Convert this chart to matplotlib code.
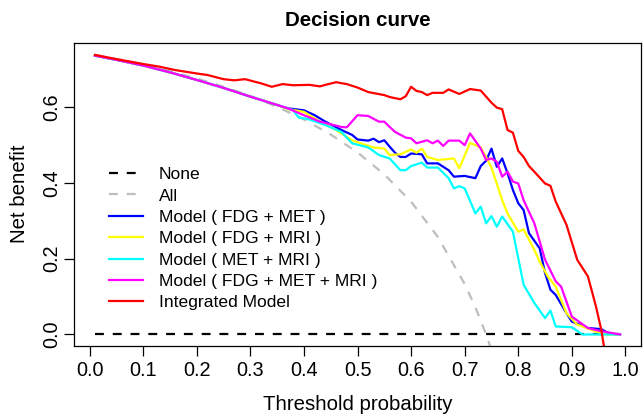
import numpy as np
import matplotlib
matplotlib.use("Agg")
import matplotlib.pyplot as plt

plt.rcParams['font.family'] = ['Liberation Sans', 'DejaVu Sans']

# reference lines
none_x = [0.01, 0.99]
none_y = [0.0, 0.0]
all_x = [0.01, 0.05, 0.10, 0.15, 0.20, 0.25, 0.30, 0.35, 0.40, 0.45, 0.50,
         0.55, 0.60, 0.65, 0.70, 0.72, 0.74, 0.76, 0.78]
all_y = [0.737, 0.726, 0.711, 0.694, 0.675, 0.653, 0.629, 0.600, 0.567, 0.527,
         0.480, 0.422, 0.350, 0.257, 0.133, 0.072, 0.0, -0.083, -0.182]

# shared start of the four models
early_x = [0.01, 0.05, 0.10, 0.15, 0.20, 0.25, 0.30, 0.35]
early_y = [0.735, 0.724, 0.709, 0.691, 0.671, 0.650, 0.627, 0.605]

fdg_met_x = early_x + [0.37, 0.40, 0.42, 0.44, 0.47, 0.49, 0.50, 0.52, 0.53, 0.54,
                       0.55, 0.56, 0.57, 0.58, 0.59, 0.60, 0.62, 0.63, 0.65, 0.67,
                       0.68, 0.70, 0.72, 0.73, 0.74, 0.75, 0.76, 0.77, 0.78, 0.79,
                       0.80, 0.81, 0.82, 0.84, 0.85, 0.86, 0.87, 0.89, 0.90, 0.93,
                       0.955, 0.97, 0.99]
fdg_met_y = early_y + [0.596, 0.591, 0.578, 0.561, 0.539, 0.526, 0.514, 0.511, 0.516, 0.507,
                       0.512, 0.495, 0.479, 0.468, 0.468, 0.477, 0.475, 0.451, 0.451, 0.433,
                       0.416, 0.418, 0.412, 0.444, 0.458, 0.490, 0.442, 0.464, 0.425, 0.381,
                       0.346, 0.328, 0.267, 0.227, 0.162, 0.118, 0.104, 0.056, 0.034, 0.017,
                       0.014, 0.002, 0.0]

fdg_mri_x = early_x + [0.37, 0.40, 0.43, 0.46, 0.49, 0.51, 0.53, 0.55, 0.56, 0.58,
                       0.60, 0.61, 0.62, 0.63, 0.65, 0.68, 0.69, 0.71, 0.73, 0.74,
                       0.75, 0.77, 0.78, 0.80, 0.81, 0.83, 0.84, 0.855, 0.87, 0.89,
                       0.91, 0.945, 0.96, 0.99]
fdg_mri_y = early_y + [0.594, 0.587, 0.561, 0.539, 0.512, 0.502, 0.493, 0.490, 0.473, 0.475,
                       0.488, 0.479, 0.490, 0.468, 0.460, 0.464, 0.438, 0.505, 0.493, 0.468,
                       0.440, 0.354, 0.319, 0.271, 0.277, 0.223, 0.192, 0.153, 0.126, 0.056,
                       0.026, 0.008, 0.0, 0.0]

met_mri_x = early_x + [0.38, 0.39, 0.41, 0.44, 0.47, 0.49, 0.52, 0.54, 0.56, 0.58,
                       0.59, 0.60, 0.62, 0.63, 0.65, 0.67, 0.68, 0.69, 0.70, 0.72,
                       0.73, 0.74, 0.75, 0.76, 0.77, 0.79, 0.81, 0.83, 0.85, 0.86,
                       0.87, 0.90, 0.92, 0.99]
met_mri_y = early_y + [0.591, 0.572, 0.567, 0.552, 0.534, 0.504, 0.493, 0.473, 0.464, 0.433,
                       0.433, 0.444, 0.453, 0.440, 0.440, 0.412, 0.385, 0.391, 0.385, 0.319,
                       0.337, 0.293, 0.312, 0.284, 0.311, 0.271, 0.131, 0.083, 0.043, 0.063,
                       0.021, 0.019, 0.0, 0.0]

all3_x = early_x + [0.37, 0.40, 0.43, 0.47, 0.48, 0.50, 0.52, 0.54, 0.55, 0.56,
                    0.57, 0.59, 0.60, 0.61, 0.63, 0.64, 0.65, 0.66, 0.67, 0.69,
                    0.70, 0.71, 0.73, 0.74, 0.75, 0.76, 0.77, 0.78, 0.79, 0.80,
                    0.81, 0.83, 0.85, 0.87, 0.88, 0.90, 0.93, 0.95, 0.99]
all3_y = early_y + [0.596, 0.578, 0.561, 0.547, 0.546, 0.578, 0.576, 0.561, 0.561, 0.547,
                    0.534, 0.519, 0.517, 0.504, 0.512, 0.504, 0.511, 0.497, 0.511, 0.511,
                    0.499, 0.530, 0.490, 0.460, 0.464, 0.455, 0.416, 0.429, 0.403, 0.398,
                    0.354, 0.293, 0.197, 0.140, 0.126, 0.047, 0.017, 0.010, 0.0]

integ_x = [0.01, 0.05, 0.10, 0.13, 0.16, 0.20, 0.22, 0.25, 0.27, 0.29,
           0.32, 0.34, 0.36, 0.38, 0.41, 0.43, 0.44, 0.46, 0.48, 0.50,
           0.52, 0.55, 0.56, 0.58, 0.59, 0.60, 0.61, 0.62, 0.63, 0.64,
           0.66, 0.67, 0.69, 0.71, 0.73, 0.75, 0.76, 0.77, 0.78, 0.79,
           0.80, 0.81, 0.82, 0.83, 0.85, 0.86, 0.87, 0.89, 0.91, 0.93,
           0.945, 0.955, 0.97]
integ_y = [0.737, 0.726, 0.713, 0.706, 0.697, 0.688, 0.684, 0.673, 0.670, 0.673,
           0.662, 0.653, 0.660, 0.657, 0.658, 0.654, 0.658, 0.665, 0.660, 0.651,
           0.639, 0.631, 0.626, 0.620, 0.628, 0.653, 0.642, 0.639, 0.631, 0.637,
           0.637, 0.646, 0.634, 0.647, 0.643, 0.611, 0.598, 0.594, 0.539, 0.532,
           0.484, 0.468, 0.444, 0.429, 0.398, 0.392, 0.350, 0.289, 0.197, 0.153,
           0.074, 0.012, -0.120]

xticks = [0.0, 0.1, 0.2, 0.3, 0.4, 0.5, 0.6, 0.7, 0.8, 0.9, 1.0]
yticks = [0.0, 0.2, 0.4, 0.6]

fig = plt.figure(figsize=(6.43, 4.17), dpi=100)
ax = fig.add_axes([0.115, 0.171, 0.882, 0.727])

lw = 1.6
ax.plot(none_x, none_y, color="black", lw=lw, ls=(0, (4, 4)), label="None")
ax.plot(all_x, all_y, color="#BEBEBE", lw=lw, ls=(0, (4, 4)), label="All")
ax.plot(fdg_met_x, fdg_met_y, color="#0000FF", lw=lw, label="Model ( FDG + MET )")
ax.plot(fdg_mri_x, fdg_mri_y, color="#FFFF00", lw=lw, label="Model ( FDG + MRI )")
ax.plot(met_mri_x, met_mri_y, color="#00FFFF", lw=lw, label="Model ( MET + MRI )")
ax.plot(all3_x, all3_y, color="#FF00FF", lw=lw, label="Model ( FDG + MET + MRI )")
ax.plot(integ_x, integ_y, color="#FF0000", lw=lw, label="Integrated Model")

ax.set_xlim(-0.0292, 1.0292)
ax.set_ylim(-0.0296, 0.7696)
ax.set_xticks(xticks)
ax.set_xticklabels(["%.1f" % v for v in xticks])
ax.set_yticks(yticks)
ax.set_yticklabels(["%.1f" % v for v in yticks])
ax.tick_params(direction="out", length=7, width=0.9, labelsize=14.3, pad=4)
ax.tick_params(axis="y", pad=2)
plt.setp(ax.get_yticklabels(), rotation=90, va="center")
for s in ax.spines.values():
    s.set_linewidth(0.9)

ax.set_xlabel("Threshold probability", fontsize=14.7, labelpad=11)
ax.set_ylabel("Net benefit", fontsize=14.7, labelpad=10)
ax.set_title("Decision curve", fontsize=14.8, fontweight="bold", pad=12)

ax.legend(loc="upper left", bbox_to_anchor=(109 / 643, 1 - 167 / 417),
          bbox_transform=fig.transFigure, frameon=False, fontsize=12.6,
          handlelength=1.94, handletextpad=0.9, labelspacing=0.35,
          borderpad=0, borderaxespad=0)

fig.savefig("out.png", dpi=100)
